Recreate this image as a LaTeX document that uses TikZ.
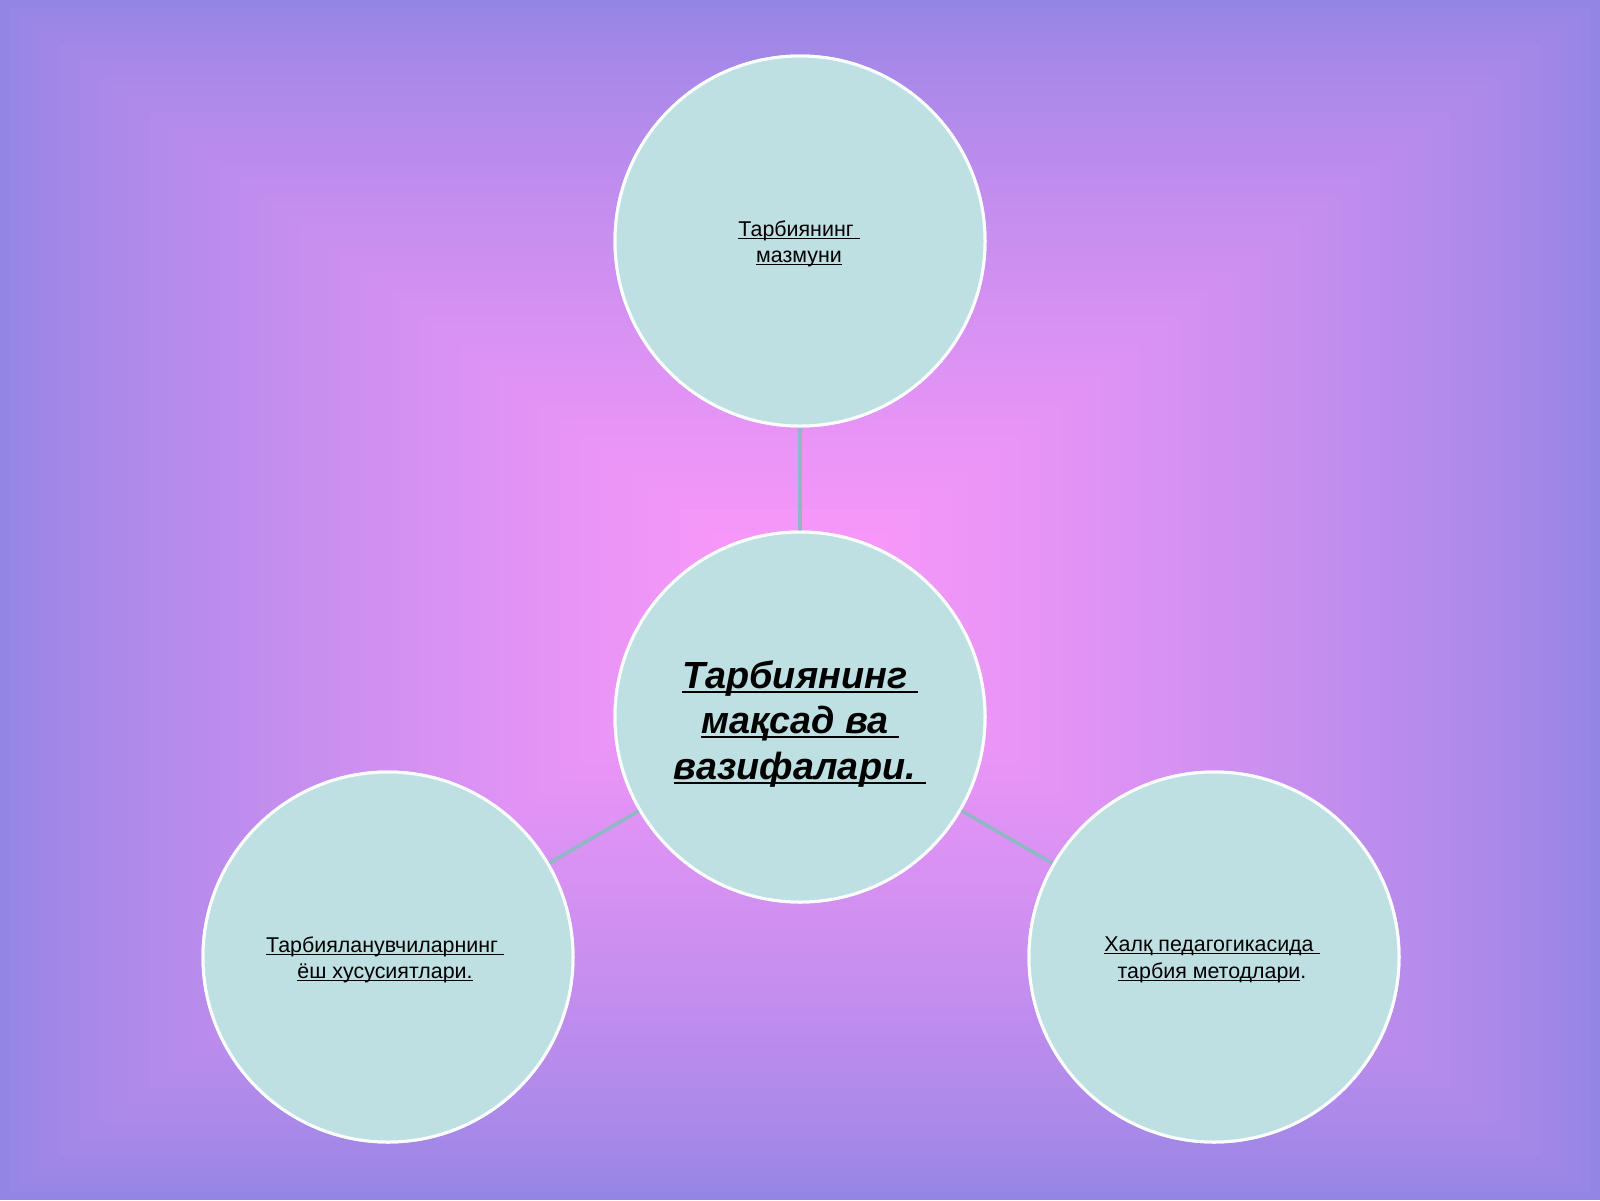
\documentclass[tikz,border=0pt]{standalone}
\usepackage{fontspec}
\setmainfont{Liberation Sans}
\definecolor{bgedge}{HTML}{9385E4}
\definecolor{bgcenter}{HTML}{FF99FB}
\definecolor{bubble}{HTML}{BEE0E3}
\definecolor{linkc}{HTML}{8DB8C4}
\newcommand{\myul}[1]{\setbox0\hbox{#1}\rlap{\rule[-0.12em]{\wd0}{0.065em}}\box0}
\tikzset{
  bubblenode/.style={circle, draw=white!92!bubble, line width=3pt, fill=bubble, minimum size=370pt, inner sep=0pt, align=center},
  smalltext/.style={font=\fontsize{21.4pt}{26.5pt}\selectfont},
  bigtext/.style={font=\fontsize{37.8pt}{45.5pt}\selectfont\bfseries\itshape},
  linkline/.style={draw=linkc, line width=3.5pt}
}
\begin{document}
\begin{tikzpicture}[x=1pt,y=-1pt]
\useasboundingbox (0,0) rectangle (1600,1200);
\begin{scope}
\clip (0,0) rectangle (1600,1200);
\foreach \i in {0,...,79}{
  \pgfmathsetmacro{\f}{1-\i/80}
  \pgfmathsetmacro{\p}{100*(\i/80)^0.75}
  \fill[bgcenter!\p!bgedge] (800-800*\f,600-600*\f) rectangle (800+800*\f,600+600*\f);
}
\end{scope}
\node[bubblenode] (c) at (800,717) {};
\node[bubblenode] (t) at (800,241) {};
\node[bubblenode] (l) at (388,957) {};
\node[bubblenode] (r) at (1214,957) {};
\draw[linkline] (c) -- (t);
\draw[linkline] (c) -- (l);
\draw[linkline] (c) -- (r);
\node[bubblenode] at (c) {};
\node[bubblenode] at (t) {};
\node[bubblenode] at (l) {};
\node[bubblenode] at (r) {};
\node[bigtext, align=center] (ct) at (800,724) {\myul{Тарбиянинг\ }\\ \myul{мақсад ва\ }\\ \myul{вазифалари.\ }};
\node[smalltext, align=center] (tt) at (799,244) {\myul{Тарбиянинг\ }\\ \myul{мазмуни}};
\node[smalltext, align=center] (lt) at (385,960) {\myul{Тарбияланувчиларнинг\ }\\ \myul{ёш хусусиятлари.}};
\node[smalltext, align=center] (rt) at (1212,960) {\myul{Халқ педагогикасида\ }\\ \myul{тарбия методлари}.};
\end{tikzpicture}
\end{document}
